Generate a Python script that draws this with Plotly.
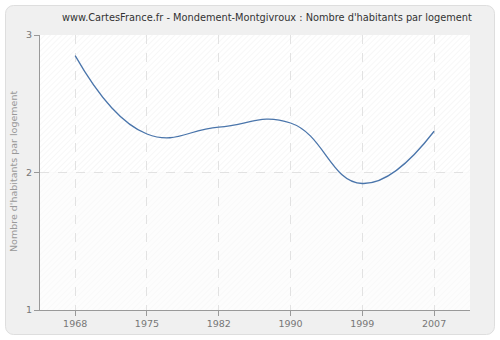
import base64
import plotly.graph_objects as go

years = ["1968", "1975", "1982", "1990", "1999", "2007"]
values = [2.85, 2.28, 2.33, 2.36, 1.92, 2.30]
y_ticks = [1, 2, 3]

title = "www.CartesFrance.fr - Mondement-Montgivroux : Nombre d'habitants par logement"
y_title = "Nombre d'habitants par logement"

W, H = 500, 340
L, R, T, B = 40, 30, 35, 30
pw, ph = W - L - R, H - T - B
FONT = "DejaVu Sans"

def px(x):
    return (x - L) / pw

def py(y):
    return (H - B - y) / ph

# background decoration: rounded panel + hatched plot area (SVG)
mid = T + ph / 2
svg = f'''<svg xmlns="http://www.w3.org/2000/svg" width="{W}" height="{H}" viewBox="0 0 {W} {H}">
<defs>
<pattern id="h1" width="4" height="4" patternUnits="userSpaceOnUse" patternTransform="rotate(45)">
<rect width="4" height="4" fill="#ffffff"/><line x1="0" y1="0" x2="0" y2="4" stroke="#f0f0f0" stroke-width="1"/></pattern>
<pattern id="h2" width="4" height="4" patternUnits="userSpaceOnUse" patternTransform="rotate(45)">
<rect width="4" height="4" fill="#fdfdfd"/><line x1="0" y1="0" x2="0" y2="4" stroke="#f5f5f5" stroke-width="1"/></pattern>
</defs>
<rect x="5.5" y="5.5" width="489" height="329" rx="8" ry="8" fill="#f0f0f0" stroke="#dedede" stroke-width="1"/>
<rect x="{L}" y="{T}" width="{pw}" height="{ph/2}" fill="url(#h1)"/>
<rect x="{L}" y="{mid}" width="{pw}" height="{ph/2}" fill="url(#h2)"/>
</svg>'''
src = "data:image/svg+xml;base64," + base64.b64encode(svg.encode()).decode()

fig = go.Figure()
fig.add_trace(go.Scatter(
    x=years, y=values, mode="lines",
    line=dict(color="#4a75ab", width=1.3, shape="spline", smoothing=1.3),
    showlegend=False, hoverinfo="x+y"))

fig.add_layout_image(dict(source=src, xref="paper", yref="paper",
                          x=px(0), y=py(0), sizex=W / pw, sizey=H / ph,
                          xanchor="left", yanchor="top", sizing="stretch",
                          layer="below"))

axis_common = dict(showgrid=True, gridcolor="#e2e2e2", griddash="dash", gridwidth=1,
                   showline=True, linecolor="#999", linewidth=1,
                   ticks="outside", ticklen=5, tickcolor="#999",
                   tickfont=dict(family=FONT, size=9.5, color="#777"),
                   zeroline=False, automargin=False, fixedrange=True)

fig.update_layout(
    width=W, height=H,
    margin=dict(l=L, r=R, t=T, b=B),
    paper_bgcolor="white", plot_bgcolor="rgba(0,0,0,0)",
    font=dict(family=FONT, size=10, color="#777"),
    annotations=[
        dict(text=title, x=px(267), y=py(17), xref="paper", yref="paper",
             xanchor="center", yanchor="middle", showarrow=False,
             font=dict(family=FONT, size=9.8, color="#333")),
        dict(text=y_title, x=px(13), y=py(172), xref="paper", yref="paper",
             xanchor="center", yanchor="middle", showarrow=False, textangle=-90,
             font=dict(family=FONT, size=9.5, color="#999")),
    ],
    xaxis=dict(type="category", range=[-0.49, 5.5], **axis_common),
    yaxis=dict(range=[1, 3], tickvals=y_ticks, **axis_common),
)

fig.write_html("out.html", config={"displayModeBar": False},
               post_script="document.body.style.margin='0';document.body.style.padding='0';")
